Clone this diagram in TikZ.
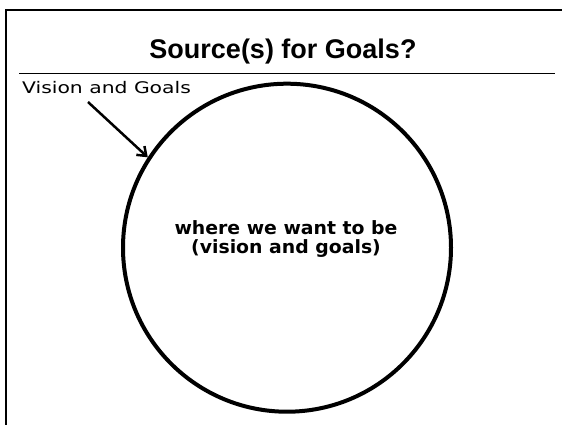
\documentclass[tikz,border=0pt]{standalone}
\usepackage{fontspec}
\usetikzlibrary{arrows.meta}
\newfontfamily\titlefont{Liberation Sans}
\newfontfamily\labelfont[FakeStretch=1.27]{DejaVu Sans}
\newfontfamily\innerfont[FakeStretch=1.03]{DejaVu Sans}
\begin{document}
\begin{tikzpicture}[x=1pt,y=-1pt,
  frameline/.style={line width=2pt},
  ruleline/.style={line width=1.5pt},
  bigcircle/.style={circle,draw,line width=4pt,minimum size=328pt,inner sep=0pt},
  pointer/.style={line width=2.5pt,-{Straight Barb[length=8pt,width=12pt,line width=2.5pt]}},
  title/.style={font=\titlefont\fontsize{27}{30}\selectfont\bfseries,inner sep=0pt,anchor=base},
  lbl/.style={font=\labelfont\fontsize{16}{19}\selectfont,inner sep=0pt,anchor=base west},
  inner/.style={font=\innerfont\fontsize{18.3}{18.4}\selectfont\bfseries,inner sep=0pt,align=center}
]
\useasboundingbox (0,0) rectangle (562,424);
\coordinate (fbl) at (6,425);
\coordinate (ftl) at (6,10);
\coordinate (ftr) at (563,10);
\draw[frameline] (fbl) -- (ftl) -- (ftr);
\node[title] (t) at (283,58) {Source(s) for Goals?};
\coordinate (rl) at (19,73.5);
\coordinate (rr) at (555,73.5);
\draw[ruleline] (rl) -- (rr);
\node[lbl] (v) at (22,93.3) {Vision and Goals};
\node[bigcircle] (c) at (287,247.7) {};
\node[inner] (w) at (286,239) {where we want to be\\(vision and goals)};
\coordinate (as) at (88,102);
\draw[pointer] (as) -- (c.147.6);
\end{tikzpicture}
\end{document}
